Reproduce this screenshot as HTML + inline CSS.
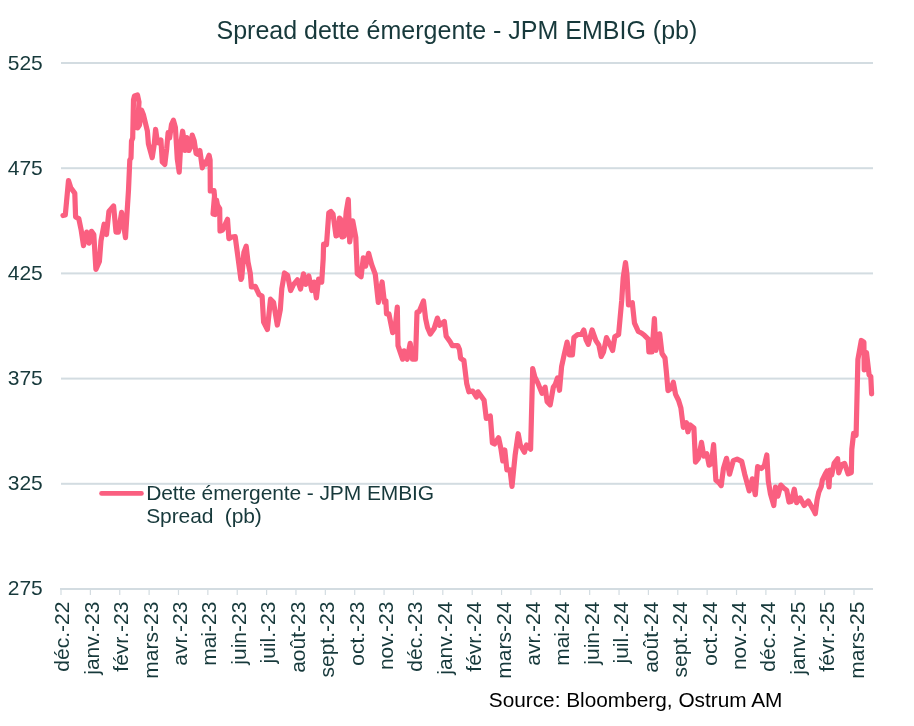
<!DOCTYPE html>
<html><head><meta charset="utf-8"><style>
html,body{margin:0;padding:0;background:#fff;}
svg{display:block;font-family:"Liberation Sans", sans-serif;will-change:transform;}
</style></head><body>
<svg width="914" height="726" viewBox="0 0 914 726">
<rect width="914" height="726" fill="#fff"/>
<rect x="61" y="62.0" width="812" height="2" fill="#d3dce1"/>
<rect x="61" y="167.2" width="812" height="2" fill="#d3dce1"/>
<rect x="61" y="272.4" width="812" height="2" fill="#d3dce1"/>
<rect x="61" y="377.6" width="812" height="2" fill="#d3dce1"/>
<rect x="61" y="482.8" width="812" height="2" fill="#d3dce1"/>
<rect x="60" y="588" width="813" height="2" fill="#d3dce1"/>
<rect x="60.40" y="589" width="1.2" height="6" fill="#d3dce1"/>
<rect x="89.77" y="589" width="1.2" height="6" fill="#d3dce1"/>
<rect x="119.14" y="589" width="1.2" height="6" fill="#d3dce1"/>
<rect x="148.51" y="589" width="1.2" height="6" fill="#d3dce1"/>
<rect x="177.88" y="589" width="1.2" height="6" fill="#d3dce1"/>
<rect x="207.25" y="589" width="1.2" height="6" fill="#d3dce1"/>
<rect x="236.62" y="589" width="1.2" height="6" fill="#d3dce1"/>
<rect x="265.99" y="589" width="1.2" height="6" fill="#d3dce1"/>
<rect x="295.36" y="589" width="1.2" height="6" fill="#d3dce1"/>
<rect x="324.73" y="589" width="1.2" height="6" fill="#d3dce1"/>
<rect x="354.10" y="589" width="1.2" height="6" fill="#d3dce1"/>
<rect x="383.47" y="589" width="1.2" height="6" fill="#d3dce1"/>
<rect x="412.84" y="589" width="1.2" height="6" fill="#d3dce1"/>
<rect x="442.21" y="589" width="1.2" height="6" fill="#d3dce1"/>
<rect x="471.59" y="589" width="1.2" height="6" fill="#d3dce1"/>
<rect x="500.96" y="589" width="1.2" height="6" fill="#d3dce1"/>
<rect x="530.33" y="589" width="1.2" height="6" fill="#d3dce1"/>
<rect x="559.70" y="589" width="1.2" height="6" fill="#d3dce1"/>
<rect x="589.07" y="589" width="1.2" height="6" fill="#d3dce1"/>
<rect x="618.44" y="589" width="1.2" height="6" fill="#d3dce1"/>
<rect x="647.81" y="589" width="1.2" height="6" fill="#d3dce1"/>
<rect x="677.18" y="589" width="1.2" height="6" fill="#d3dce1"/>
<rect x="706.55" y="589" width="1.2" height="6" fill="#d3dce1"/>
<rect x="735.92" y="589" width="1.2" height="6" fill="#d3dce1"/>
<rect x="765.29" y="589" width="1.2" height="6" fill="#d3dce1"/>
<rect x="794.66" y="589" width="1.2" height="6" fill="#d3dce1"/>
<rect x="824.03" y="589" width="1.2" height="6" fill="#d3dce1"/>
<rect x="853.40" y="589" width="1.2" height="6" fill="#d3dce1"/>
<text x="42.8" y="69.5" text-anchor="end" font-size="21" fill="#17393b">525</text>
<text x="42.8" y="174.7" text-anchor="end" font-size="21" fill="#17393b">475</text>
<text x="42.8" y="279.8" text-anchor="end" font-size="21" fill="#17393b">425</text>
<text x="42.8" y="385.0" text-anchor="end" font-size="21" fill="#17393b">375</text>
<text x="42.8" y="490.1" text-anchor="end" font-size="21" fill="#17393b">325</text>
<text x="42.8" y="595.3" text-anchor="end" font-size="21" fill="#17393b">275</text>
<text transform="translate(69.40,601.6) rotate(-90)" x="0" y="0" text-anchor="end" font-size="21" fill="#17393b">déc.-22</text>
<text transform="translate(98.82,601.6) rotate(-90)" x="0" y="0" text-anchor="end" font-size="21" fill="#17393b">janv.-23</text>
<text transform="translate(128.23,601.6) rotate(-90)" x="0" y="0" text-anchor="end" font-size="21" fill="#17393b">févr.-23</text>
<text transform="translate(157.65,601.6) rotate(-90)" x="0" y="0" text-anchor="end" font-size="21" fill="#17393b">mars-23</text>
<text transform="translate(187.06,601.6) rotate(-90)" x="0" y="0" text-anchor="end" font-size="21" fill="#17393b">avr.-23</text>
<text transform="translate(216.48,601.6) rotate(-90)" x="0" y="0" text-anchor="end" font-size="21" fill="#17393b">mai-23</text>
<text transform="translate(245.89,601.6) rotate(-90)" x="0" y="0" text-anchor="end" font-size="21" fill="#17393b">juin-23</text>
<text transform="translate(275.31,601.6) rotate(-90)" x="0" y="0" text-anchor="end" font-size="21" fill="#17393b">juil.-23</text>
<text transform="translate(304.72,601.6) rotate(-90)" x="0" y="0" text-anchor="end" font-size="21" fill="#17393b">août-23</text>
<text transform="translate(334.14,601.6) rotate(-90)" x="0" y="0" text-anchor="end" font-size="21" fill="#17393b">sept.-23</text>
<text transform="translate(363.55,601.6) rotate(-90)" x="0" y="0" text-anchor="end" font-size="21" fill="#17393b">oct.-23</text>
<text transform="translate(392.97,601.6) rotate(-90)" x="0" y="0" text-anchor="end" font-size="21" fill="#17393b">nov.-23</text>
<text transform="translate(422.38,601.6) rotate(-90)" x="0" y="0" text-anchor="end" font-size="21" fill="#17393b">déc.-23</text>
<text transform="translate(451.80,601.6) rotate(-90)" x="0" y="0" text-anchor="end" font-size="21" fill="#17393b">janv.-24</text>
<text transform="translate(481.22,601.6) rotate(-90)" x="0" y="0" text-anchor="end" font-size="21" fill="#17393b">févr.-24</text>
<text transform="translate(510.63,601.6) rotate(-90)" x="0" y="0" text-anchor="end" font-size="21" fill="#17393b">mars-24</text>
<text transform="translate(540.05,601.6) rotate(-90)" x="0" y="0" text-anchor="end" font-size="21" fill="#17393b">avr.-24</text>
<text transform="translate(569.46,601.6) rotate(-90)" x="0" y="0" text-anchor="end" font-size="21" fill="#17393b">mai-24</text>
<text transform="translate(598.88,601.6) rotate(-90)" x="0" y="0" text-anchor="end" font-size="21" fill="#17393b">juin-24</text>
<text transform="translate(628.29,601.6) rotate(-90)" x="0" y="0" text-anchor="end" font-size="21" fill="#17393b">juil.-24</text>
<text transform="translate(657.71,601.6) rotate(-90)" x="0" y="0" text-anchor="end" font-size="21" fill="#17393b">août-24</text>
<text transform="translate(687.12,601.6) rotate(-90)" x="0" y="0" text-anchor="end" font-size="21" fill="#17393b">sept.-24</text>
<text transform="translate(716.54,601.6) rotate(-90)" x="0" y="0" text-anchor="end" font-size="21" fill="#17393b">oct.-24</text>
<text transform="translate(745.95,601.6) rotate(-90)" x="0" y="0" text-anchor="end" font-size="21" fill="#17393b">nov.-24</text>
<text transform="translate(775.37,601.6) rotate(-90)" x="0" y="0" text-anchor="end" font-size="21" fill="#17393b">déc.-24</text>
<text transform="translate(804.78,601.6) rotate(-90)" x="0" y="0" text-anchor="end" font-size="21" fill="#17393b">janv.-25</text>
<text transform="translate(834.20,601.6) rotate(-90)" x="0" y="0" text-anchor="end" font-size="21" fill="#17393b">févr.-25</text>
<text transform="translate(863.62,601.6) rotate(-90)" x="0" y="0" text-anchor="end" font-size="21" fill="#17393b">mars-25</text>
<path d="M63,215.5 L65.3,215 L68.5,180.6 L70.8,187.7 L74.8,193.3 L75.6,217 L78.8,218.6 L81.1,229.7 L83.5,245.6 L86.7,232.1 L89.1,243.2 L91.5,231.3 L93.8,234.5 L95.9,269.4 L99.4,261.4 L101,240.8 L104.1,224.2 L106.5,234.5 L108.9,211.5 L113.6,206 L116,232.1 L118.4,232.1 L121.6,212.3 L125.5,237.7 L128.5,190 L129.8,160 L131,158 L131.5,141 L132.7,138 L133.5,100 L134.5,96 L137.5,95 L139,102 L137.5,128 L139.5,125 L141.5,110 L143.5,115 L147.4,131.2 L148.4,143.7 L152.2,157.7 L154.2,144.7 L155.6,129.3 L157,139 L158.5,142.8 L160.9,139.9 L162.3,162 L164.8,164.5 L166.7,148.6 L168.1,132.7 L169.6,138 L171.5,124.5 L173.4,120.2 L175.4,127.4 L177.3,159.2 L179.2,172.2 L180.7,144.7 L182.6,131.2 L184,139.9 L185,150.5 L186.9,137.5 L188.9,150.5 L190.3,147.6 L192.2,135.1 L194.2,140.9 L196.1,153.4 L198,154.4 L199.9,150.5 L202.3,167.8 L203.8,162 L205.7,164 L209.1,155.3 L210.1,160 L210.3,191 L214,190.5 L214.5,196 L213,214 L215,214.5 L216.5,200 L217.5,205 L219.7,208.7 L220,231 L222.6,230 L227.5,219.3 L228.9,238.6 L232,237 L235.2,236.7 L237.1,250.8 L240.9,279.5 L241.7,278 L243.9,252.3 L246.2,246.2 L248,262 L250.3,273.4 L251.4,287 L255.3,286.4 L259.1,294.7 L262.1,296.2 L263.6,322 L267.4,329.5 L270.5,299.2 L273.5,302.3 L277.3,325 L280.3,309.8 L281.8,288.6 L284.5,273 L287.6,275.3 L290.6,290.5 L293.6,284.4 L297.4,279.8 L300.5,289 L303.5,273.8 L305.8,284.4 L308.8,276 L311.8,290.5 L314.1,282.1 L316.4,298 L318.6,279 L321.7,282.1 L323.2,258.6 L323.6,244 L326.5,244.5 L328.8,213 L331,211.5 L333,214 L336,236 L338,235 L339.5,218 L340.5,219 L342,237 L344.3,236 L346.2,212 L348.3,199.5 L349.7,242 L352.7,220.8 L355.8,237.4 L357.3,273.8 L361.1,276.8 L363.3,257.9 L365.6,266.2 L368.6,253.3 L371.7,264.7 L375.3,274.4 L378.3,302.4 L382.1,282 L384.4,302.4 L385.9,300.9 L386.5,314 L388.9,313.8 L392.7,332.7 L395,328.9 L397.3,307 L398,345.6 L402.6,359.2 L404.1,350.9 L407.1,359.2 L410.2,343.3 L412.4,359.2 L415.5,359.2 L417,312.3 L419.2,311.5 L423.5,301 L425.6,318.7 L427.5,327.5 L430.3,334.1 L434.1,328.6 L437.4,318.1 L439.6,325.3 L444.3,321.4 L446.2,336.3 L450.1,341.8 L452.3,345.6 L457.8,345.6 L459.5,349.5 L460.6,358.3 L463.9,360.5 L466.7,383.5 L468.9,391.8 L472.7,391 L476.5,397.1 L478,391.8 L484.1,400.2 L486.3,418.5 L490.3,416.1 L492.4,443 L494.5,444 L498.6,437.8 L501,449 L502.8,461 L504.8,450 L506.9,470 L510,469.8 L512,486.4 L515.1,455.4 L518.2,433.7 L520.3,445 L524.4,452.3 L526.5,445 L530.6,449.2 L532.7,368.6 L534.8,376.9 L537.9,383.1 L542,393.4 L545.1,387.2 L547.1,401.7 L550.2,404.8 L553.3,387.2 L555.4,384.1 L557.5,377.9 L559.5,390.3 L561.6,366.5 L564.1,355 L567.1,342.1 L569.4,355 L572.4,355 L573.9,337.6 L577.7,334.5 L581.5,334.5 L583.8,330 L586.1,339.8 L588.3,344.4 L592.1,330 L595.9,340.6 L598.9,345.2 L601.2,356.5 L603.5,352 L606.5,337.6 L609.5,343.6 L612.6,350.5 L614.8,336.8 L618.6,334.5 L621.7,300.5 L623.2,277.7 L625.5,262.6 L627,274.7 L628.5,305 L632.3,302.7 L634.5,323.2 L638.3,331.5 L641.4,333 L644.4,335.3 L648.2,339.1 L648.9,352 L652,352 L654.4,318.6 L655.9,350.5 L659.7,333.8 L662,353.5 L665,358 L666.5,373.2 L668,390.6 L671.1,388.3 L673.3,382.3 L675.6,394.4 L678.6,400.5 L680.9,408 L683.3,427.3 L686.4,422.7 L687.9,431.8 L690.2,425 L693.9,428 L695.5,462.1 L698.5,458.3 L701.5,442.4 L703.8,456.1 L706.8,453.8 L709.1,465.2 L711.4,463.6 L713.6,444.7 L715.9,480.3 L718.9,482.6 L721.2,485.6 L723.5,468.2 L726.5,458.3 L729.5,474.2 L733.3,460.6 L737.1,459.1 L741.7,461.4 L744.7,474.2 L749.2,490.9 L752.3,478.8 L755.3,494.7 L757.6,466.7 L761.4,468.5 L764.4,465.5 L766.8,455 L768.3,481 L770.5,494 L773.8,505.5 L775.5,487 L777.9,496.2 L780.8,485.1 L783.7,488 L786.7,490.3 L789,502 L791.3,501.4 L794.3,489.2 L796.6,502.6 L800.1,497.9 L804.2,505.5 L808.3,500.9 L810.6,505 L813.6,510.2 L815.3,513.7 L817.1,499.7 L818.8,492.1 L821.2,486.8 L822.4,479.8 L825.3,473.9 L827,471 L829,487 L830,470 L831.7,475.1 L834.1,463.4 L837.6,458.7 L838.7,472.8 L841.7,464.6 L844.6,463.4 L848.1,473.9 L851.3,472.5 L851.8,449.4 L853.6,433.4 L856.1,435.2 L857.9,359.4 L861.3,340.5 L863.9,342.2 L864.2,369.8 L866.5,352.5 L869.1,374.9 L870.8,376.6 L871.6,393.8" fill="none" stroke="#fa5f80" stroke-width="5.2" stroke-linejoin="round" stroke-linecap="round"/>
<line x1="101.5" y1="493.4" x2="141.5" y2="493.4" stroke="#fa5f80" stroke-width="4.6" stroke-linecap="round"/>
<text x="146.2" y="499.7" font-size="21" letter-spacing="-0.1" fill="#17393b">Dette émergente - JPM EMBIG</text>
<text x="146.2" y="523" font-size="21" letter-spacing="-0.1" fill="#17393b" xml:space="preserve">Spread  (pb)</text>
<text x="216.5" y="38.8" font-size="25" fill="#17393b">Spread dette émergente - JPM EMBIG (pb)</text>
<text x="488.8" y="706.7" font-size="20.8" fill="#000">Source: Bloomberg, Ostrum AM</text>
</svg></body></html>
